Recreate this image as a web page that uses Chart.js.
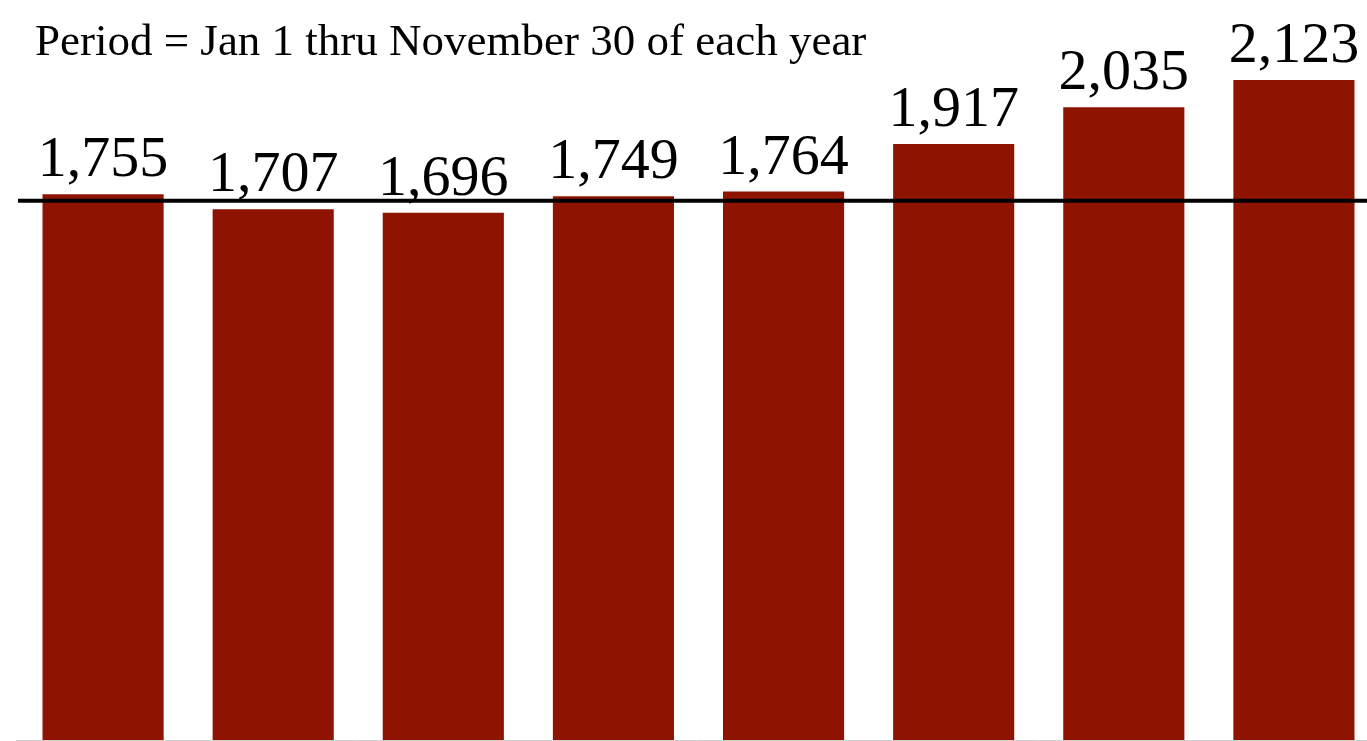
<!DOCTYPE html>
<html>
<head>
<meta charset="utf-8">
<script src="https://cdn.jsdelivr.net/npm/chart.js@4"></script>
<style>
  html, body { margin: 0; padding: 0; background: #fff; overflow: hidden; }
  #wrap { position: relative; width: 1379px; height: 741px; }
</style>
</head>
<body>
<div id="wrap"><canvas id="periodChart"></canvas></div>
<script>
// years are not visible in the picture, so the categories are generic
const categories = ["Year 1", "Year 2", "Year 3", "Year 4", "Year 5", "Year 6", "Year 7", "Year 8"];
const counts = [1755, 1707, 1696, 1749, 1764, 1917, 2035, 2123];
const referenceLevel = [1734];
const titleText = "Period = Jan 1 thru November 30 of each year";

const barColor = "#8e1300";
const serif = "'Liberation Serif', 'Times New Roman', serif";

const overlayPlugin = {
  id: "overlay",
  afterDatasetsDraw(chart) {
    const ctx = chart.ctx;
    const y = chart.scales.y;
    const area = chart.chartArea;
    ctx.save();

    // faint base line
    ctx.strokeStyle = "#d0d0d0";
    ctx.lineWidth = 1;
    ctx.beginPath();
    ctx.moveTo(area.left - 2, y.getPixelForValue(0) + 0.5);
    ctx.lineTo(area.right, y.getPixelForValue(0) + 0.5);
    ctx.stroke();

    // reference line
    const ly = y.getPixelForValue(referenceLevel[0]);
    ctx.strokeStyle = "#000";
    ctx.lineWidth = 4;
    ctx.beginPath();
    ctx.moveTo(area.left, ly);
    ctx.lineTo(area.right, ly);
    ctx.stroke();

    // value labels
    ctx.fillStyle = "#000";
    ctx.font = "58px " + serif;
    ctx.textAlign = "center";
    ctx.textBaseline = "alphabetic";
    chart.getDatasetMeta(0).data.forEach(function (bar, i) {
      ctx.fillText(counts[i].toLocaleString("en-US"), bar.x, bar.y - 18);
    });

    // title
    ctx.font = "45px " + serif;
    ctx.textAlign = "left";
    ctx.fillText(titleText, 35, 55);
    ctx.restore();
  },
};

new Chart(document.getElementById("periodChart").getContext("2d"), {
  type: "bar",
  data: {
    labels: categories,
    datasets: [
      {
        data: counts,
        backgroundColor: barColor,
        borderWidth: 0,
        barPercentage: 0.712,
        categoryPercentage: 1,
      },
    ],
  },
  options: {
    responsive: true,
    maintainAspectRatio: false,
    animation: false,
    layout: { padding: { left: 18, right: 0, top: 0, bottom: 1 } },
    plugins: {
      legend: { display: false },
      tooltip: { enabled: false },
      title: { display: false },
    },
    scales: {
      x: { display: false },
      y: { display: false, min: 0, max: 2380 },
    },
  },
  plugins: [overlayPlugin],
});
</script>
</body>
</html>
